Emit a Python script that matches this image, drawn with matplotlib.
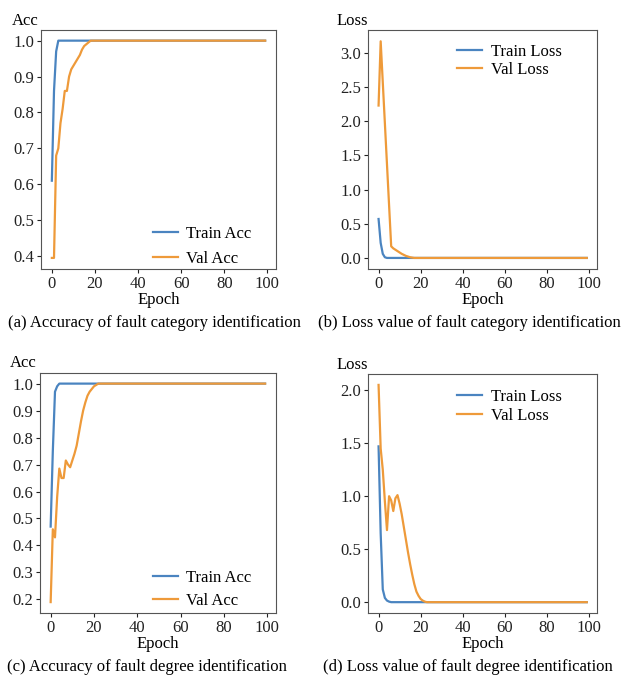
import matplotlib
matplotlib.use("Agg")
import matplotlib.pyplot as plt
import numpy as np

plt.rcParams["font.family"] = ["Liberation Serif", "DejaVu Serif"]
plt.rcParams["font.size"] = 12

BLUE = "#4a84c0"
ORANGE = "#ee9a3a"
N_EPOCHS = 100
epochs = np.arange(N_EPOCHS)

# (a) fault category - accuracy (first epochs, then flat at 1.0)
cat_train_acc_head = [0.61, 0.86, 0.97, 1.0]
cat_val_acc_head = [0.395, 0.395, 0.68, 0.70, 0.77, 0.81, 0.86, 0.86, 0.90, 0.92,
                    0.93, 0.94, 0.95, 0.96, 0.975, 0.985, 0.99, 0.995, 1.0]

# (b) fault category - loss
cat_train_loss_head = [0.57, 0.22, 0.06, 0.01, 0.0]
cat_val_loss_head = [2.23, 3.17, 2.57, 1.97, 1.37, 0.77, 0.17, 0.14, 0.12, 0.10,
                     0.08, 0.06, 0.045, 0.03, 0.02, 0.01, 0.005, 0.0]

# (c) fault degree - accuracy
deg_train_acc_head = [0.47, 0.75, 0.97, 0.99, 1.0]
deg_val_acc_head = [0.19, 0.46, 0.43, 0.58, 0.685, 0.65, 0.65, 0.715, 0.70, 0.69,
                    0.715, 0.74, 0.77, 0.815, 0.86, 0.90, 0.93, 0.955, 0.97, 0.98,
                    0.99, 0.995, 1.0]

# (d) fault degree - loss
deg_train_loss_head = [1.47, 0.65, 0.12, 0.04, 0.015, 0.005, 0.0]
deg_val_loss_head = [2.05, 1.45, 1.25, 0.95, 0.68, 1.0, 0.96, 0.86, 0.98, 1.01,
                     0.93, 0.83, 0.71, 0.59, 0.47, 0.36, 0.26, 0.17, 0.10, 0.06,
                     0.03, 0.015, 0.005, 0.0]

acc_ticks_c = [0.2, 0.3, 0.4, 0.5, 0.6, 0.7, 0.8, 0.9, 1.0]


def pad(head, n=N_EPOCHS):
    # after the listed epochs the curve stays at its last value
    return np.array(head + [head[-1]] * (n - len(head)))


panels = [
    # rect, ylabel, series, legend loc, anchor, spacing, caption, caption x, yticks
    ([0.066, 0.603, 0.376, 0.353], "Acc",
     [("Train Acc", cat_train_acc_head), ("Val Acc", cat_val_acc_head)],
     "lower right", (0.96, -0.056), 0.55,
     "(a) Accuracy of fault category identification", 0.248, None),
    ([0.590, 0.603, 0.367, 0.352], "Loss",
     [("Train Loss", cat_train_loss_head), ("Val Loss", cat_val_loss_head)],
     "upper right", (0.91, 1.008), 0.15,
     "(b) Loss value of fault category identification", 0.752, None),
    ([0.064, 0.0945, 0.378, 0.355], "Acc",
     [("Train Acc", deg_train_acc_head), ("Val Acc", deg_val_acc_head)],
     "lower right", (0.96, -0.046), 0.45,
     "(c) Accuracy of fault degree identification", 0.236, acc_ticks_c),
    ([0.590, 0.0945, 0.367, 0.353], "Loss",
     [("Train Loss", deg_train_loss_head), ("Val Loss", deg_val_loss_head)],
     "upper right", (0.91, 1.0), 0.15,
     "(d) Loss value of fault degree identification", 0.750, None),
]

fig = plt.figure(figsize=(6.24, 6.77), dpi=100)

for rect, ylab, series, loc, anchor, spacing, caption, cx, yticks in panels:
    ax = fig.add_axes(rect)
    for (label, head), color in zip(series, [BLUE, ORANGE]):
        ax.plot(epochs, pad(head), color=color, lw=1.6, label=label)
    ax.set_xticks([0, 20, 40, 60, 80, 100])
    if yticks is not None:
        ax.set_yticks(yticks)
    ax.set_xlabel("Epoch", labelpad=0)
    ax.text(-0.07, 1.005, ylab, transform=ax.transAxes, ha="center", va="bottom")
    for sp in ax.spines.values():
        sp.set_color("#555555")
    ax.tick_params(colors="#222222", length=3, labelsize=12, pad=2)
    ax.legend(loc=loc, bbox_to_anchor=anchor, frameon=False, handlelength=1.5,
              handletextpad=0.5, labelspacing=spacing)
    fig.text(cx, rect[1] - 0.08, caption, ha="center", va="center", fontsize=12)

fig.savefig("out.png", dpi=100)
